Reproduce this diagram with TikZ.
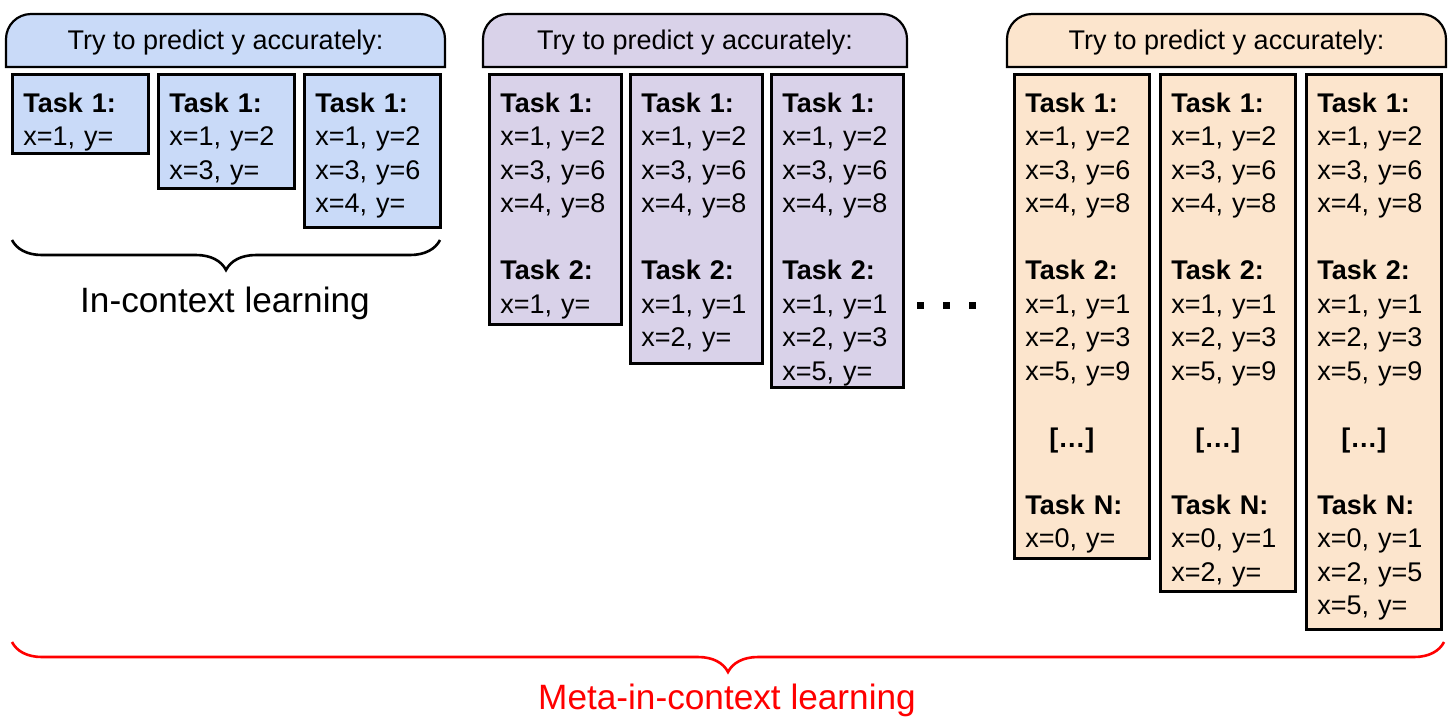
\documentclass[tikz,border=0pt]{standalone}
\usepackage{fontspec}
\setmainfont{Liberation Sans}
\usetikzlibrary{decorations.pathreplacing}
\definecolor{icblue}{HTML}{C9DAF8}
\definecolor{icpurple}{HTML}{D9D2E9}
\definecolor{icorange}{HTML}{FCE5CD}
\definecolor{icred}{HTML}{FF0000}
\begin{document}
\begin{tikzpicture}[x=0.5pt,y=-0.5pt,
  taskbox/.style={draw,line width=1.4pt,anchor=north west,align=left,inner xsep=5.5pt,inner ysep=0pt,text height=19pt,font=\fontsize{13.5}{16.75}\selectfont},
  headline/.style={draw,line width=1.1pt},
  headtext/.style={anchor=base,font=\fontsize{13.5}{16.75}\selectfont},
  sqdot/.style={fill=black,inner sep=0pt,minimum size=3.5pt},
  bracelabel/.style={anchor=base,font=\fontsize{17.6}{20}\selectfont},
  bracepath/.style={decorate,decoration={brace,mirror,amplitude=15pt},line width=1.3pt}]
\useasboundingbox (0,0) rectangle (1456,720);
% in-context learning
\draw[headline,fill=icblue] (6,67) -- (6,39) arc[start angle=180,end angle=270,radius=25] -- (420,14) arc[start angle=270,end angle=360,radius=25] -- (445,67) -- cycle;
\node[headtext] (h_blue) at (225.5,49) {Try to predict y accurately:};
\node[taskbox,fill=icblue,text width=57pt,text depth=20.5pt] (b_1) at (11,73) {\textbf{Task 1:}\\ x=1, y=};
\node[taskbox,fill=icblue,text width=57pt,text depth=38pt] (b_2) at (157,73) {\textbf{Task 1:}\\ x=1, y=2\\ x=3, y=};
\node[taskbox,fill=icblue,text width=57pt,text depth=57.5pt] (b_3) at (303,73) {\textbf{Task 1:}\\ x=1, y=2\\ x=3, y=6\\ x=4, y=};
\coordinate (ic_l) at (12,240);
\coordinate (ic_r) at (440,240);
\draw[bracepath] (ic_l) -- (ic_r);
\node[bracelabel] (ic_text) at (225,312) {In-context learning};
% meta, few tasks
\draw[headline,fill=icpurple] (483,67) -- (483,39) arc[start angle=180,end angle=270,radius=25] -- (882,14) arc[start angle=270,end angle=360,radius=25] -- (907,67) -- cycle;
\node[headtext] (h_purple) at (695,49) {Try to predict y accurately:};
\node[taskbox,fill=icpurple,text width=55pt,text depth=106pt] (p_1) at (488,73) {\textbf{Task 1:}\\ x=1, y=2\\ x=3, y=6\\ x=4, y=8\\[16.75pt] \textbf{Task 2:}\\ x=1, y=};
\node[taskbox,fill=icpurple,text width=55pt,text depth=125.5pt] (p_2) at (629,73) {\textbf{Task 1:}\\ x=1, y=2\\ x=3, y=6\\ x=4, y=8\\[16.75pt] \textbf{Task 2:}\\ x=1, y=1\\ x=2, y=};
\node[taskbox,fill=icpurple,text width=55pt,text depth=137.5pt] (p_3) at (770,73) {\textbf{Task 1:}\\ x=1, y=2\\ x=3, y=6\\ x=4, y=8\\[16.75pt] \textbf{Task 2:}\\ x=1, y=1\\ x=2, y=3\\ x=5, y=};
\node[sqdot] (dot_1) at (920,305) {};
\node[sqdot] (dot_2) at (946,305) {};
\node[sqdot] (dot_3) at (972,305) {};
% meta, N tasks
\draw[headline,fill=icorange] (1007,67) -- (1007,39) arc[start angle=180,end angle=270,radius=25] -- (1421,14) arc[start angle=270,end angle=360,radius=25] -- (1446,67) -- cycle;
\node[headtext] (h_orange) at (1226.5,49) {Try to predict y accurately:};
\node[taskbox,fill=icorange,text width=56.5pt,text depth=223pt] (o_1) at (1013,73) {\textbf{Task 1:}\\ x=1, y=2\\ x=3, y=6\\ x=4, y=8\\[16.75pt] \textbf{Task 2:}\\ x=1, y=1\\ x=2, y=3\\ x=5, y=9\\[16.75pt] \hspace*{12pt}\textbf{[…]}\\[16.75pt] \textbf{Task N:}\\ x=0, y=};
\node[taskbox,fill=icorange,text width=56.5pt,text depth=239.5pt] (o_2) at (1159,73) {\textbf{Task 1:}\\ x=1, y=2\\ x=3, y=6\\ x=4, y=8\\[16.75pt] \textbf{Task 2:}\\ x=1, y=1\\ x=2, y=3\\ x=5, y=9\\[16.75pt] \hspace*{12pt}\textbf{[…]}\\[16.75pt] \textbf{Task N:}\\ x=0, y=1\\ x=2, y=};
\node[taskbox,fill=icorange,text width=56.5pt,text depth=258.5pt] (o_3) at (1305,73) {\textbf{Task 1:}\\ x=1, y=2\\ x=3, y=6\\ x=4, y=8\\[16.75pt] \textbf{Task 2:}\\ x=1, y=1\\ x=2, y=3\\ x=5, y=9\\[16.75pt] \hspace*{12pt}\textbf{[…]}\\[16.75pt] \textbf{Task N:}\\ x=0, y=1\\ x=2, y=5\\ x=5, y=};
\coordinate (mc_l) at (12,642);
\coordinate (mc_r) at (1444,642);
\draw[bracepath,color=icred] (mc_l) -- (mc_r);
\node[bracelabel,text=icred] (mc_text) at (727,709) {Meta-in-context learning};
\end{tikzpicture}
\end{document}
